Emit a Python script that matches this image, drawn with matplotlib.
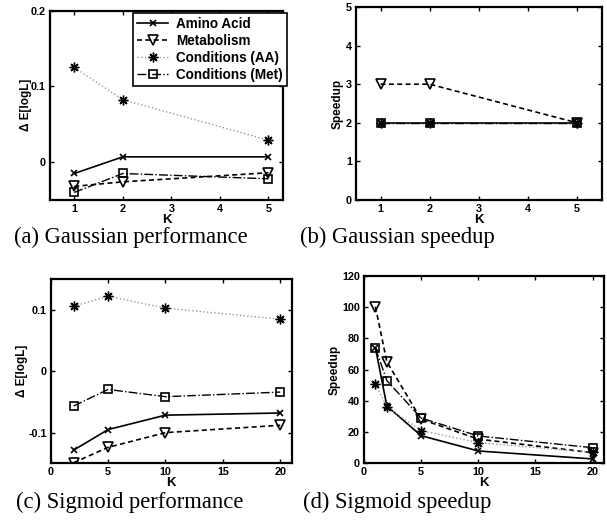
import matplotlib
matplotlib.use("Agg")
import matplotlib.pyplot as plt

W, H = 607, 529
plt.rcParams['font.family'] = ['Liberation Sans', 'DejaVu Sans']
plt.rcParams['font.weight'] = 'bold'

# ---- data ----
series_names = ["Amino Acid", "Metabolism", "Conditions (AA)", "Conditions (Met)"]

k_gauss = [1, 2, 5]
gauss_perf_amino = [-0.015, 0.007, 0.007]
gauss_perf_metab = [-0.032, -0.026, -0.014]
gauss_perf_condaa = [0.125, 0.0825, 0.029]
gauss_perf_condmet = [-0.040, -0.015, -0.022]

gauss_speed_amino = [2, 2, 2]
gauss_speed_metab = [3, 3, 2]
gauss_speed_condaa = [2, 2, 2]
gauss_speed_condmet = [2, 2, 2]

k_sig_perf = [2, 5, 10, 20]
sig_perf_amino = [-0.1285, -0.095, -0.0715, -0.068]
sig_perf_metab = [-0.149, -0.124, -0.100, -0.088]
sig_perf_condaa = [0.106, 0.1225, 0.103, 0.085]
sig_perf_condmet = [-0.0565, -0.0296, -0.0414, -0.0339]

k_sig_speed = [1, 2, 5, 10, 20]
sig_speed_amino = [74, 36.7, 17.7, 7.9, 2.8]
sig_speed_metab = [100.3, 65, 28.2, 15.5, 6.8]
sig_speed_condaa = [50.8, 36, 21, 13.2, 7]
sig_speed_condmet = [73.7, 53, 29, 17.5, 10]

captions = ["(a) Gaussian performance", "(b) Gaussian speedup",
            "(c) Sigmoid performance", "(d) Sigmoid speedup"]

styles = [
    dict(color='black', linestyle='-', marker='x', markersize=5, mew=1.2, lw=1.2),
    dict(color='black', linestyle='--', marker='v', markersize=7.5, mfc='none', mew=1.2, lw=1.2, dashes=(3, 2)),
    dict(color='#999999', linestyle=':', marker=(8, 2, 0), markersize=7, mec='black', mfc='black', mew=1.0, lw=1.0),
    dict(color='black', linestyle='-.', marker='s', markersize=5.5, mfc='none', mew=1.2, lw=1.0),
]

fig = plt.figure(figsize=(W / 100, H / 100), dpi=100)


def add_ax(l, r, t, b):
    return fig.add_axes([l / W, 1 - b / H, (r - l) / W, (b - t) / H])


def style_ax(ax):
    for s in ax.spines.values():
        s.set_linewidth(1.6)
    ax.tick_params(direction='in', top=True, right=True, length=3, width=1,
                   labelsize=7.8, pad=3)
    for lab in ax.get_xticklabels() + ax.get_yticklabels():
        lab.set_fontweight('bold')
    ax.set_xlabel('K', fontsize=9.5, fontweight='bold', labelpad=0)


# (a)
axa = add_ax(50, 283, 10.7, 200)
for ys, st, nm in zip([gauss_perf_amino, gauss_perf_metab, gauss_perf_condaa, gauss_perf_condmet],
                      styles, series_names):
    axa.plot(k_gauss, ys, label=nm, **st)
axa.set_xlim(0.5, 5.3)
axa.set_ylim(-0.05, 0.2)
axa.set_xticks([1, 2, 3, 4, 5])
axa.set_yticks([0, 0.1, 0.2])
axa.set_yticklabels(['0', '0.1', '0.2'])
axa.set_ylabel('Δ E[logL]', fontsize=8.5, fontweight='bold', labelpad=-1)
style_ax(axa)
leg = axa.legend(loc='upper right', bbox_to_anchor=(287 / W, 1 - 12.7 / H),
                 bbox_transform=fig.transFigure,
                 prop=dict(weight='bold', size=9.75), fancybox=False, framealpha=1,
                 edgecolor='black', borderpad=0.3, labelspacing=0.22,
                 handlelength=2.3, handletextpad=0.6, borderaxespad=0)
leg.get_frame().set_linewidth(1.2)

# (b)
axb = add_ax(356, 601.7, 7, 200)
for ys, st in zip([gauss_speed_amino, gauss_speed_metab, gauss_speed_condaa, gauss_speed_condmet], styles):
    axb.plot(k_gauss, ys, **st)
axb.set_xlim(0.5, 5.5)
axb.set_ylim(0, 5)
axb.set_xticks([1, 2, 3, 4, 5])
axb.set_yticks([0, 1, 2, 3, 4, 5])
axb.set_ylabel('Speedup', fontsize=8.5, fontweight='bold', labelpad=1.5)
style_ax(axb)

# (c)
axc = add_ax(50.7, 291.7, 279.3, 463.3)
for ys, st in zip([sig_perf_amino, sig_perf_metab, sig_perf_condaa, sig_perf_condmet], styles):
    axc.plot(k_sig_perf, ys, **st)
axc.set_xlim(0, 21)
axc.set_ylim(-0.15, 0.15)
axc.set_xticks([0, 5, 10, 15, 20])
axc.set_yticks([-0.1, 0, 0.1])
axc.set_yticklabels(['-0.1', '0', '0.1'])
axc.set_ylabel('Δ E[logL]', fontsize=8.5, fontweight='bold', labelpad=0)
style_ax(axc)

# (d)
axd = add_ax(364, 604, 276, 463.3)
for ys, st in zip([sig_speed_amino, sig_speed_metab, sig_speed_condaa, sig_speed_condmet], styles):
    axd.plot(k_sig_speed, ys, **st)
axd.set_xlim(0, 21)
axd.set_ylim(0, 120)
axd.set_xticks([0, 5, 10, 15, 20])
axd.set_yticks([0, 20, 40, 60, 80, 100, 120])
axd.set_ylabel('Speedup', fontsize=8.5, fontweight='bold', labelpad=1)
style_ax(axd)

# captions
cap_pos = [(130.5, 243), (397, 243), (130, 508), (397, 508)]
for (cx, cy), txt in zip(cap_pos, captions):
    fig.text(cx / W, 1 - cy / H, txt, ha='center', va='baseline',
             family=['Liberation Serif', 'DejaVu Serif'], fontweight='normal', fontsize=16.3)

fig.savefig('out.png', dpi=100)
